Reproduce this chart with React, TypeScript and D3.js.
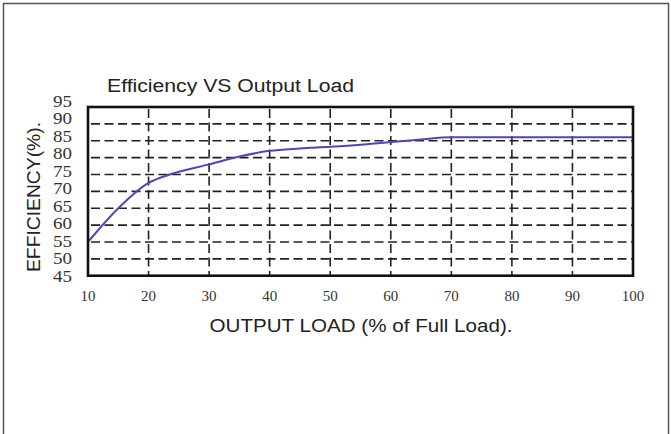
import React from "react";
import * as d3 from "d3";

const loads = [10, 15, 20, 23.5, 30, 35, 40, 45, 50, 55, 60, 65, 70, 80, 90, 100];
const efficiency = [55, 65, 72.5, 75, 78, 80.3, 82, 82.7, 83.2, 83.8, 84.6, 85.4, 86, 86, 86, 86];
const xTicks = [10, 20, 30, 40, 50, 60, 70, 80, 90, 100];
const yTicks = [45, 50, 55, 60, 65, 70, 75, 80, 85, 90, 95];
const title = "Efficiency VS Output Load";
const xTitle = "OUTPUT LOAD (% of Full Load).";
const yTitle = "EFFICIENCY(%).";

export default function App() {
  const W = 671, H = 434;
  const left = 88, right = 633, top = 107, bottom = 275.7;
  const x = d3.scaleLinear().domain([10, 100]).range([left, right]);
  const y = d3.scaleLinear().domain([45, 95]).range([bottom, top]);
  const line = d3
    .line<number>()
    .x((_, i) => x(loads[i]))
    .y((d) => y(d))
    .curve(d3.curveMonotoneX);
  const yLab = d3.scaleLinear().domain([45, 95]).range([278, 103]);
  const dash = "9,4.5";
  return (
    <svg width={W} height={H} style={{ position: "absolute", left: 0, top: 0, background: "#fff" }}>
      <rect x={0} y={0} width={W} height={H} fill="#fff" />
      <path d={`M3.5,${H} V3.5 H668.5 V${H}`} fill="none" stroke="#555" strokeWidth={1.5} />
      <text x={107} y={92} textLength={247} lengthAdjust="spacingAndGlyphs" fontFamily="Liberation Sans, Arial, sans-serif" fontSize={18} fill="#222">
        {title}
      </text>
      {xTicks.slice(1, -1).map((t) => (
        <line key={"vx" + t} x1={x(t)} x2={x(t)} y1={top} y2={bottom} stroke="#222" strokeWidth={1.6} strokeDasharray={dash} strokeDashoffset={-2} />
      ))}
      {yTicks.slice(1, -1).map((t) => (
        <line key={"hy" + t} x1={left} x2={right} y1={y(t)} y2={y(t)} stroke="#222" strokeWidth={1.6} strokeDasharray={dash} strokeDashoffset={-3} />
      ))}
      <path d={line(efficiency) || ""} fill="none" stroke="#4848c0" strokeWidth={2} />
      <rect x={left} y={top} width={right - left} height={bottom - top} fill="none" stroke="#111" strokeWidth={2.6} />
      {yTicks.map((t) => (
        <text key={"yl" + t} x={72} y={yLab(t)} dominantBaseline="middle" textAnchor="end" fontFamily="Liberation Serif, Times New Roman, serif" fontSize={16.5} fill="#333" textLength={19} lengthAdjust="spacingAndGlyphs">
          {t}
        </text>
      ))}
      {xTicks.map((t) => (
        <text key={"xl" + t} x={x(t)} y={298} dominantBaseline="middle" textAnchor="middle" fontFamily="Liberation Serif, Times New Roman, serif" fontSize={15} fill="#333">
          {t}
        </text>
      ))}
      <text x={361} y={327} textLength={303} lengthAdjust="spacingAndGlyphs" dominantBaseline="middle" textAnchor="middle" fontFamily="Liberation Sans, Arial, sans-serif" fontSize={17.5} fill="#222">
        {xTitle}
      </text>
      <text transform="translate(35,197) rotate(-90)" textLength={150} lengthAdjust="spacingAndGlyphs" dominantBaseline="middle" textAnchor="middle" fontFamily="Liberation Sans, Arial, sans-serif" fontSize={18.5} fill="#222">
        {yTitle}
      </text>
    </svg>
  );
}
